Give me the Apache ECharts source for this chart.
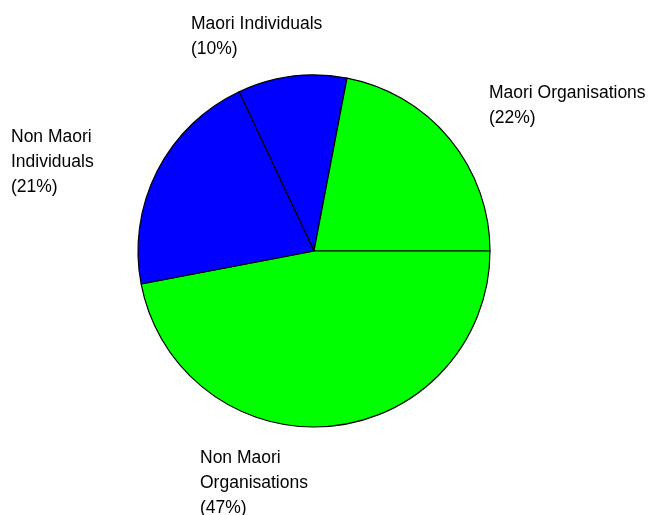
<!DOCTYPE html>
<html>
<head>
<meta charset="utf-8">
<script src="https://cdn.jsdelivr.net/npm/echarts@6/dist/echarts.min.js"></script>
<style>
  html, body { margin: 0; padding: 0; background: #fff; }
  #chart { width: 649px; height: 515px; }
</style>
</head>
<body>
<div id="chart"></div>
<script>
// Share of recipients by group (percent)
const categories = [
  'Maori Individuals',
  'Maori Organisations',
  'Non Maori\nOrganisations',
  'Non Maori\nIndividuals'
];
const shares = [10, 22, 47, 21];
const sliceColors = ['#0000ff', '#00ff00', '#00ff00', '#0000ff'];

// Top-left corner of each label block, in pixels
const labelSpots = [
  [191, 12],
  [489, 81],
  [200, 446],
  [11, 125]
];

const total = shares.reduce((a, b) => a + b, 0);
// Rotate so the Maori Organisations slice ends exactly at 3 o'clock
const startAngle = 360 * (shares[0] + shares[1]) / total;

const chart = echarts.init(document.getElementById('chart'), null, { renderer: 'canvas' });
chart.setOption({
  backgroundColor: '#ffffff',
  animation: false,
  series: [{
    type: 'pie',
    center: [314, 251],
    radius: [0, 176],
    startAngle: startAngle,
    clockwise: true,
    avoidLabelOverlap: false,
    itemStyle: { borderColor: '#000000', borderWidth: 1.2 },
    emphasis: { disabled: true },
    label: {
      show: true,
      position: 'outside',
      formatter: '{b}\n({d}%)',
      fontFamily: 'Liberation Sans, Arial, sans-serif',
      fontSize: 17.5,
      lineHeight: 25,
      color: '#000000',
      align: 'left'
    },
    labelLine: { show: false },
    labelLayout: function (p) {
      const s = labelSpots[p.dataIndex];
      return { x: s[0], y: s[1], align: 'left', verticalAlign: 'top' };
    },
    data: categories.map((name, i) => ({
      name: name,
      value: shares[i],
      itemStyle: { color: sliceColors[i] }
    }))
  }]
});
</script>
</body>
</html>
